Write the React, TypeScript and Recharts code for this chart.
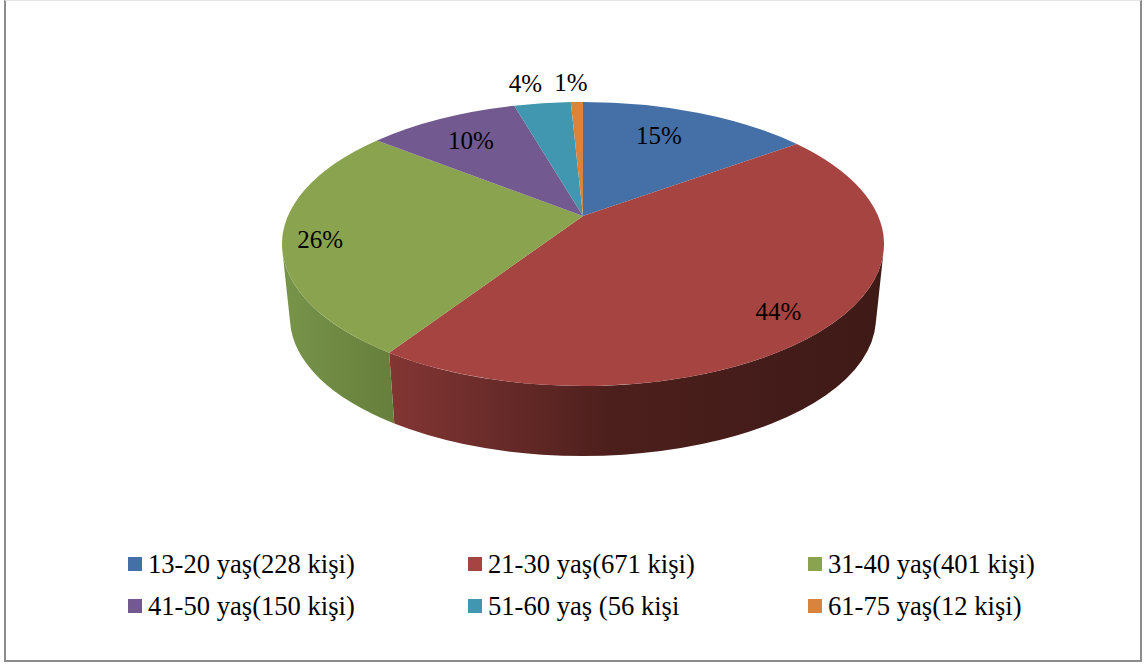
import React from 'react';
import { PieChart, Pie, Legend } from 'recharts';

const ageGroups = [
  '13-20 yaş(228 kişi)',
  '21-30 yaş(671 kişi)',
  '31-40 yaş(401 kişi)',
  '41-50 yaş(150 kişi)',
  '51-60 yaş (56 kişi',
  '61-75 yaş(12 kişi)',
];
const people = [228, 671, 401, 150, 56, 12];
const sliceColors = ['#4570a7', '#a64442', '#8aa34e', '#72598f', '#4197af', '#d9833c'];

const rows = ageGroups.map((name, i) => ({ name, value: people[i], fill: sliceColors[i] }));

// side wall shading, left to right, only the front slices have one
const wallStops: Record<number, [number, string][]> = {
  1: [[0, '#833634'], [0.2, '#6b2c2a'], [0.45, '#4c1f1c'], [1, '#3e1a17']],
  2: [[0, '#78944a'], [1, '#667f3c']],
};

// label shift away from the rim point of each slice's middle angle
const labelShift = [[-38, 23], [-52, -13], [38, 1], [29, 22], [-17, -20], [-6, -20]];

const FONT = '"Liberation Serif", serif';
const TILT = 142 / 301;
const APEX_LIFT = 28; // perspective moves the slice apex above the ellipse centre
const SKEW = 0.817;
const WALL_DROP = 74;
const BASE_RX = 293;
const FRONT_FROM = 92;
const FRONT_TO = 268;

const rad = (d: number) => (d * Math.PI) / 180;

// chart angle to rim angle under the perspective, 0 = top, clockwise
const rimAngle = (angle: number) => {
  const half = rad(90 - angle) / 2;
  return (2 * Math.atan2(SKEW * Math.sin(half), Math.cos(half)) * 180) / Math.PI;
};

const rimPoint = (cx: number, cy: number, rx: number, ry: number, phi: number) => [
  cx + rx * Math.sin(rad(phi)),
  cy - ry * Math.cos(rad(phi)),
];

const arcTo = (p: number[], rx: number, ry: number, large: boolean, sweep: boolean) =>
  `A ${rx} ${ry} 0 ${large ? 1 : 0} ${sweep ? 1 : 0} ${p[0]} ${p[1]}`;

const PieSlice = (props: any) => {
  const { cx, cy, outerRadius, startAngle, endAngle, fill, index } = props;
  const rx = outerRadius;
  const ry = outerRadius * TILT;
  const a = rimAngle(startAngle);
  const b = rimAngle(endAngle);
  const p1 = rimPoint(cx, cy, rx, ry, a);
  const p2 = rimPoint(cx, cy, rx, ry, b);
  const face = `M ${cx} ${cy - APEX_LIFT} L ${p1[0]} ${p1[1]} ${arcTo(p2, rx, ry, b - a > 180, true)} Z`;

  let wall = null;
  const from = Math.max(a, FRONT_FROM);
  const to = Math.min(b, FRONT_TO);
  if (to > from) {
    const baseRy = ry - 4;
    const baseCy = cy + WALL_DROP;
    const t1 = rimPoint(cx, cy, rx, ry, from);
    const t2 = rimPoint(cx, cy, rx, ry, to);
    const b1 = rimPoint(cx, baseCy, BASE_RX, baseRy, from);
    const b2 = rimPoint(cx, baseCy, BASE_RX, baseRy, to);
    const large = to - from > 180;
    const d = `M ${t1[0]} ${t1[1]} ${arcTo(t2, rx, ry, large, true)} L ${b2[0]} ${b2[1]} ${arcTo(b1, BASE_RX, baseRy, large, false)} Z`;
    const xs = [t1[0], t2[0], b1[0], b2[0]];
    wall = (
      <>
        <defs>
          <linearGradient
            id={`wall-${index}`}
            gradientUnits="userSpaceOnUse"
            x1={Math.min(...xs)}
            x2={Math.max(...xs)}
            y1={0}
            y2={0}
          >
            {(wallStops[index] || [[0, fill]]).map(([o, c]) => (
              <stop key={o} offset={o} stopColor={c} />
            ))}
          </linearGradient>
        </defs>
        <path d={d} fill={`url(#wall-${index})`} />
      </>
    );
  }

  return (
    <g>
      {wall}
      <path d={face} fill={fill} />
    </g>
  );
};

const PercentLabel = (props: any) => {
  const { cx, cy, outerRadius, midAngle, percent, index } = props;
  const rim = rimPoint(cx, cy, outerRadius, outerRadius * TILT, rimAngle(midAngle));
  const [dx, dy] = labelShift[index];
  return (
    <text
      x={rim[0] + dx}
      y={rim[1] + dy}
      textAnchor="middle"
      dominantBaseline="central"
      fontFamily={FONT}
      fontSize={25}
      fill="#000"
    >
      {`${Math.round(percent * 100)}%`}
    </text>
  );
};

const LegendGrid = ({ payload }: any) => (
  <div style={{ display: 'grid', gridTemplateColumns: 'repeat(3, 340px)', gridAutoRows: '42px' }}>
    {(payload || []).map((item: any) => (
      <div key={item.value} style={{ display: 'flex', alignItems: 'center', height: 42 }}>
        <span style={{ width: 14, height: 14, background: item.color, marginRight: 6, flex: 'none' }} />
        <span style={{ fontFamily: FONT, fontSize: 26.6, color: '#000', whiteSpace: 'nowrap' }}>{item.value}</span>
      </div>
    ))}
  </div>
);

export default function App() {
  return (
    <div style={{ position: 'absolute', left: 0, top: 0, width: 1144, height: 664, background: '#fff', overflow: 'hidden' }}>
      <div
        style={{
          position: 'absolute',
          left: 4,
          top: 0,
          width: 1134,
          height: 659,
          borderLeft: '2px solid #8c8c8c',
          borderRight: '2px solid #8c8c8c',
          borderBottom: '2px solid #8c8c8c',
          borderTop: '1px solid #e4e4e4',
          boxSizing: 'content-box',
        }}
      />
      <PieChart width={1144} height={664} margin={{ top: 0, right: 0, bottom: 0, left: 0 }} style={{ position: 'absolute', left: 0, top: 0 }}>
        <Pie
          data={rows}
          dataKey="value"
          nameKey="name"
          cx={583}
          cy={244}
          innerRadius={0}
          outerRadius={301}
          startAngle={90}
          endAngle={-270}
          stroke="none"
          shape={PieSlice}
          label={PercentLabel}
          labelLine={false}
          isAnimationActive={false}
        />
        <Legend
          content={LegendGrid}
          wrapperStyle={{ position: 'absolute', left: 128, top: 543, width: 1020, bottom: 'auto' }}
        />
      </PieChart>
    </div>
  );
}
